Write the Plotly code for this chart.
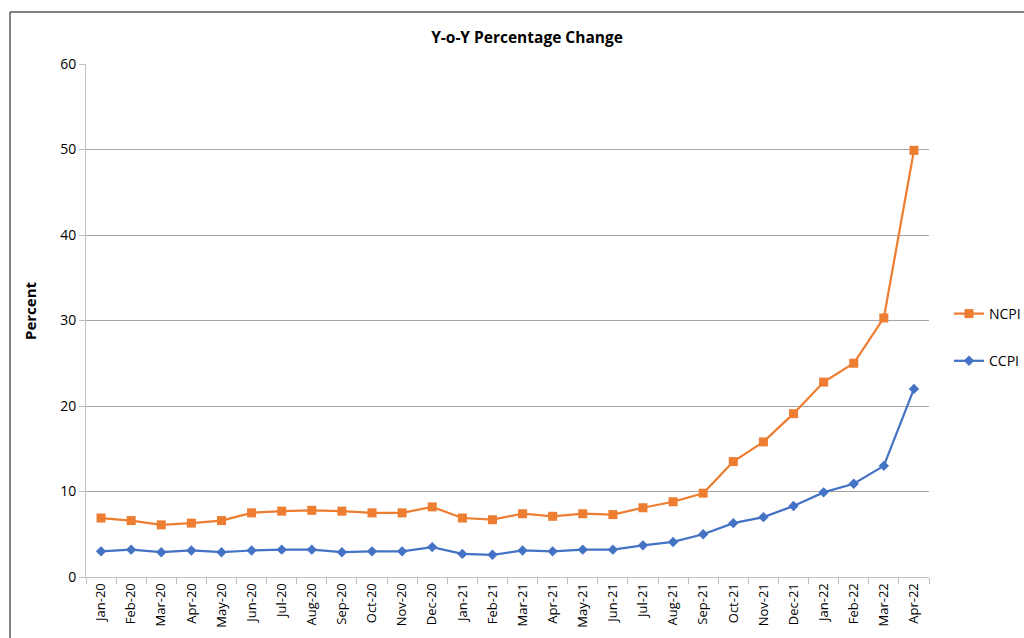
import plotly.graph_objects as go

months = ["Jan-20","Feb-20","Mar-20","Apr-20","May-20","Jun-20","Jul-20","Aug-20","Sep-20","Oct-20",
          "Nov-20","Dec-20","Jan-21","Feb-21","Mar-21","Apr-21","May-21","Jun-21","Jul-21","Aug-21",
          "Sep-21","Oct-21","Nov-21","Dec-21","Jan-22","Feb-22","Mar-22","Apr-22"]
ncpi = [6.9, 6.6, 6.1, 6.3, 6.6, 7.5, 7.7, 7.8, 7.7, 7.5, 7.5, 8.2, 6.9, 6.7, 7.4, 7.1, 7.4, 7.3,
        8.1, 8.8, 9.8, 13.5, 15.8, 19.1, 22.8, 25.0, 30.3, 49.9]
ccpi = [3.0, 3.2, 2.9, 3.1, 2.9, 3.1, 3.2, 3.2, 2.9, 3.0, 3.0, 3.5, 2.7, 2.6, 3.1, 3.0, 3.2, 3.2,
        3.7, 4.1, 5.0, 6.3, 7.0, 8.3, 9.9, 10.9, 13.0, 22.0]

FONT = "'Open Sans', Lato, sans-serif"

fig = go.Figure()
fig.add_trace(go.Scatter(x=months, y=ncpi, name="NCPI", mode="lines+markers", legendgroup="a",
                         line=dict(color="#ED7D31", width=2.25),
                         marker=dict(symbol="square", size=9, color="#ED7D31")))
fig.add_trace(go.Scatter(x=months, y=ccpi, name="CCPI", mode="lines+markers", legendgroup="b",
                         line=dict(color="#4472C4", width=2.25),
                         marker=dict(symbol="diamond", size=8, color="#4472C4")))

# body margin is removed in the page, so figure coordinates = screen coordinates
W, H = 1024, 638
L, T = 86, 64
R = W - 929
B = H - 577
pw, ph = W - L - R, H - T - B

def px(xs):
    return (xs - L) / pw

def py(ys):
    return 1 - (ys - T) / ph

fig.update_layout(
    width=W, height=H,
    margin=dict(l=L, r=R, t=T, b=B, autoexpand=False),
    paper_bgcolor="white", plot_bgcolor="white",
    font=dict(family=FONT, size=13, color="#000000"),
    title=dict(text="<b>Y-o-Y Percentage Change</b>", x=527 / W, xanchor="center",
               y=1 - 38 / H, yanchor="middle", font=dict(size=15.5, family=FONT)),
    showlegend=True,
    legend=dict(x=px(949), xanchor="left", y=py(298), yanchor="top",
                traceorder="grouped", tracegroupgap=26, bgcolor="rgba(0,0,0,0)",
                font=dict(size=14, family=FONT), itemwidth=30),
    xaxis=dict(type="category", range=[-0.5, len(months) - 0.5], autorange=False, automargin=False,
               showgrid=False, showline=True, linecolor="#BFBFBF", linewidth=1,
               ticks="outside", tickson="boundaries", ticklen=6, tickcolor="#BFBFBF",
               tickangle=-90, tickfont=dict(size=13, family=FONT), zeroline=False),
    yaxis=dict(range=[0, 60], dtick=10, automargin=False, showgrid=True, gridcolor="#A6A6A6", gridwidth=1,
               showline=True, linecolor="#BFBFBF", ticks="outside", ticklen=6, tickcolor="#BFBFBF",
               zeroline=False, tickfont=dict(size=14, family=FONT)),
    annotations=[dict(text="<b>Percent</b>", xref="paper", yref="paper", x=px(30), y=py(311),
                      xanchor="center", yanchor="middle", textangle=-90, showarrow=False,
                      font=dict(size=15, family=FONT))],
)

# outer chart border
x0 = px(10)
y1 = py(12)
fig.add_shape(type="line", xref="paper", yref="paper", x0=x0, x1=x0, y0=-1, y1=y1,
              line=dict(color="#595959", width=1.5))
fig.add_shape(type="line", xref="paper", yref="paper", x0=x0, x1=2, y0=y1, y1=y1,
              line=dict(color="#595959", width=1.5))

fig.write_html(
    "out.html",
    config={"displayModeBar": False},
    post_script="document.body.style.margin='0';document.body.style.overflow='hidden';",
)
